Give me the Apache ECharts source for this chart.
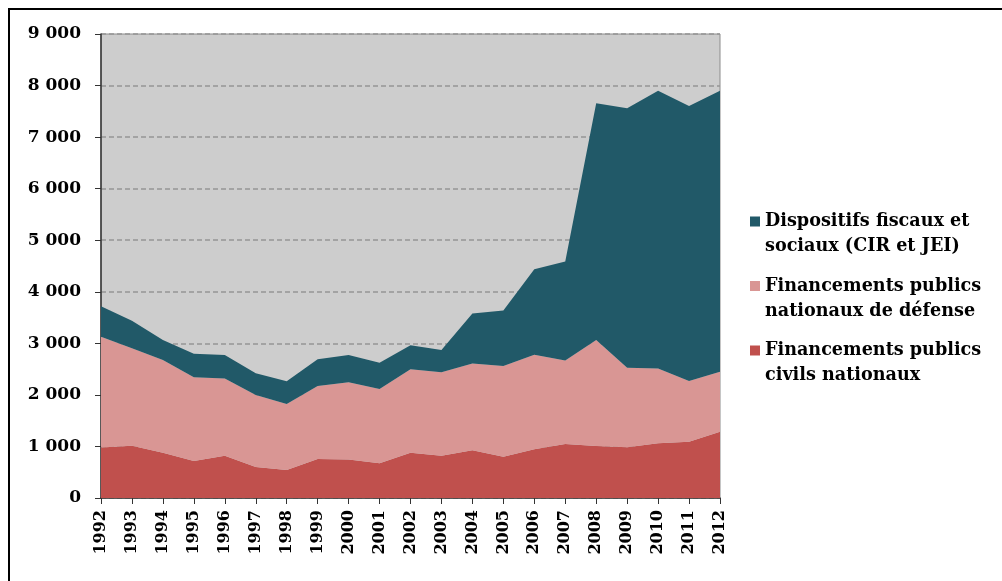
<!DOCTYPE html>
<html>
<head>
<meta charset="utf-8">
<script src="https://cdn.jsdelivr.net/npm/echarts@6/dist/echarts.min.js"></script>
<style>
  html, body { margin: 0; padding: 0; background: #fff; }
  #chart { width: 1002px; height: 581px; }
</style>
</head>
<body>
<div id="chart"></div>
<script>
// categories and values (M€)
const years = ['1992', '1993', '1994', '1995', '1996', '1997', '1998', '1999', '2000', '2001', '2002',
  '2003', '2004', '2005', '2006', '2007', '2008', '2009', '2010', '2011', '2012'];
const civils = [980, 1015, 880, 720, 820, 600, 545, 755, 745, 675, 880, 820, 925, 800, 945, 1045, 1010, 985, 1060, 1090, 1285];
const defense = [2150, 1890, 1795, 1620, 1500, 1400, 1280, 1415, 1500, 1440, 1615, 1620, 1685, 1760, 1835, 1620, 2055, 1540, 1450, 1180, 1165];
const fiscaux = [590, 535, 390, 460, 455, 420, 440, 520, 530, 510, 470, 430, 970, 1075, 1655, 1920, 4590, 5035, 5390, 5335, 5450];

const names = {
  fiscaux: 'Dispositifs fiscaux et sociaux (CIR et JEI)',
  defense: 'Financements publics nationaux de défense',
  civils: 'Financements publics civils nationaux'
};
// leading empty line so that the square sits level with the first text line
const legendLines = {};
legendLines[names.fiscaux] = '\nDispositifs fiscaux et\nsociaux (CIR et JEI)';
legendLines[names.defense] = '\nFinancements publics\nnationaux de défense';
legendLines[names.civils] = '\nFinancements publics\ncivils nationaux';

const font = 'DejaVu Serif';
const chart = echarts.init(document.getElementById('chart'));

function area(name, data, color) {
  return {
    name: name,
    type: 'line',
    stack: 'total',
    data: data,
    showSymbol: false,
    lineStyle: { width: 0 },
    itemStyle: { color: color },
    areaStyle: { color: color, opacity: 1 }
  };
}

chart.setOption({
  backgroundColor: '#fff',
  animation: false,
  graphic: [{
    type: 'rect',
    shape: { x: 9, y: 9, width: 1200, height: 800 },
    style: { fill: 'none', stroke: '#000', lineWidth: 2 },
    silent: true
  }],
  grid: {
    left: 101, right: 282, top: 34, bottom: 83,
    show: true,
    backgroundColor: '#cdcdcd',
    borderColor: '#8c8c8c',
    borderWidth: 1
  },
  legend: {
    orient: 'vertical',
    left: 750,
    top: 184,
    padding: 0,
    itemWidth: 10,
    itemHeight: 10,
    itemGap: -10.5,
    icon: 'rect',
    data: [names.fiscaux, names.defense, names.civils],
    formatter: n => legendLines[n],
    textStyle: {
      fontFamily: font,
      fontWeight: 'bold',
      fontSize: 17.6,
      lineHeight: 25,
      color: '#000'
    }
  },
  xAxis: {
    type: 'category',
    data: years,
    boundaryGap: false,
    axisLine: { lineStyle: { color: '#333', width: 1.5 } },
    axisTick: { interval: 0, length: 6, lineStyle: { color: '#333' } },
    axisLabel: {
      interval: 0,
      rotate: 90,
      margin: 12,
      color: '#000',
      fontFamily: font,
      fontWeight: 'bold',
      fontSize: 16
    }
  },
  yAxis: {
    type: 'value',
    min: 0,
    max: 9000,
    interval: 1000,
    axisLine: { show: true, lineStyle: { color: '#333', width: 1.5 } },
    axisTick: { show: true, length: 6, lineStyle: { color: '#333' } },
    splitLine: { lineStyle: { color: '#959595', width: 1.5, type: [5, 3] } },
    axisLabel: {
      margin: 20,
      color: '#000',
      fontFamily: font,
      fontWeight: 'bold',
      fontSize: 17,
      formatter: v => String(v).replace(/\B(?=(\d{3})+(?!\d))/g, ' ')
    }
  },
  series: [
    area(names.civils, civils, '#c0504d'),
    area(names.defense, defense, '#d99694'),
    area(names.fiscaux, fiscaux, '#215968')
  ]
});
</script>
</body>
</html>
